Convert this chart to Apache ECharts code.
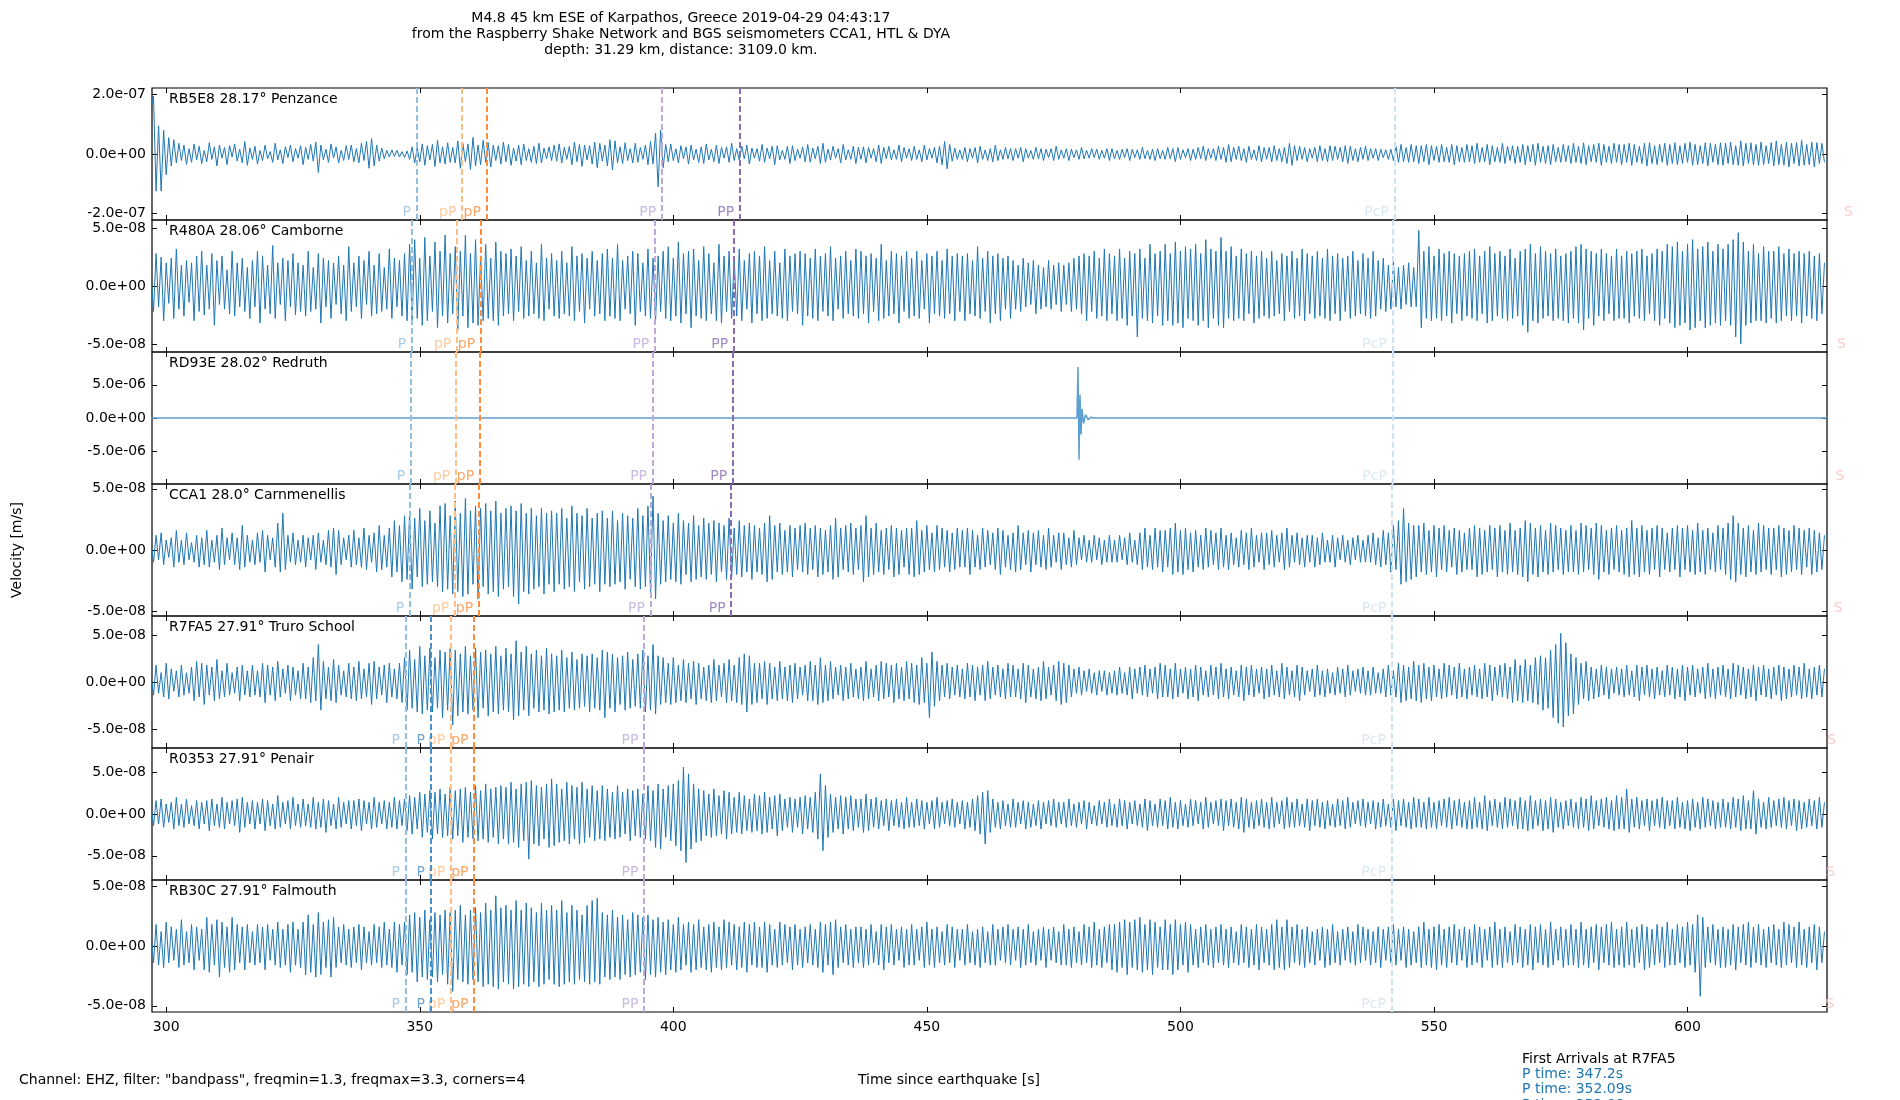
<!DOCTYPE html>
<html>
<head>
<meta charset="utf-8">
<script src="https://cdn.jsdelivr.net/npm/echarts@6/dist/echarts.min.js"></script>
<style>
  html, body { margin: 0; padding: 0; background: #fff; }
  #main { width: 1900px; height: 1100px; }
</style>
</head>
<body>
<div id="main"></div>
<script>
// traces sampled every 0.5 s from 297 s, values in nm/s (1e-9 m/s)
var T0 = 297, DT = 0.5;

var penzance = [
  150,195,-125,95,-125,80,-70,55,-40,48,-30,36,-22,30,-35,18,-28,34,-20,26,
  -32,12,-26,38,-18,24,-40,30,-14,22,-36,28,-10,34,-24,16,-30,42,-38,20,
  -18,26,-34,12,-22,30,-16,8,-28,36,-20,14,-32,24,-12,30,-26,18,-14,28,
  -36,22,-18,32,-24,40,-62,30,-20,16,-28,34,-14,24,-30,12,-22,28,-18,30,
  -26,18,-30,36,-22,42,-48,52,-40,30,-24,20,-16,12,-10,14,-8,12,-10,8,
  -12,10,-18,24,-30,20,-26,34,-38,28,-20,32,-42,46,-30,24,-34,38,-28,22,
  -30,44,-48,36,-26,34,-52,56,-40,30,-36,46,-28,38,-44,30,-22,28,-34,40,
  -26,32,-38,20,-24,30,-36,34,-22,18,-28,26,-32,36,-30,20,-16,24,-22,30,
  -24,34,-30,22,-18,26,-36,40,-26,32,-42,30,-20,28,-34,40,-46,36,-24,30,
  -40,48,-54,44,-30,24,-32,38,-22,18,-30,36,-28,22,-18,30,-36,42,-34,70,
  -110,80,-46,32,-26,34,-22,18,-30,28,-16,24,-34,30,-20,16,-28,24,-32,34,
  -20,16,-26,30,-32,22,-14,24,-28,36,-22,18,-20,26,-16,30,-34,20,-14,18,
  -24,32,-28,20,-16,26,-36,28,-20,12,-18,26,-32,28,-22,16,-14,24,-26,32,
  -28,20,-16,26,-32,36,-28,16,-20,26,-14,18,-30,32,-20,14,-18,26,-32,22,
  -18,24,-30,22,-14,18,-26,30,-32,22,-16,26,-20,14,-18,30,-26,22,-14,18,
  -22,26,-18,14,-26,30,-20,18,-14,22,-30,26,-36,42,-50,32,-24,20,-18,14,
  -18,22,-26,18,-14,22,-30,26,-18,14,-22,18,-26,30,-22,14,-18,22,-16,18,
  -22,18,-14,22,-26,18,-14,12,-18,22,-16,18,-22,16,-12,18,-22,26,-18,14,
  -14,18,-22,16,-12,14,-18,22,-16,12,-14,18,-12,16,-18,12,-14,18,-22,18,
  -16,12,-18,16,-12,18,-22,16,-12,14,-18,22,-16,12,-18,16,-22,18,-16,12,
  -18,22,-16,18,-26,22,-18,14,-12,18,-22,16,-18,22,-16,26,-22,18,-14,18,
  -22,26,-18,22,-28,32,-26,22,-18,26,-22,18,-28,26,-18,14,-22,28,-26,22,
  -18,22,-26,28,-22,18,-26,22,-32,36,-38,28,-22,26,-18,22,-26,18,-14,22,
  -26,28,-22,18,-26,28,-22,26,-18,22,-26,28,-32,26,-22,18,-26,22,-18,26,
  -22,18,-14,18,-22,16,-12,14,-18,16,-22,26,-28,32,-26,22,-28,32,-26,28,
  -32,28,-26,32,-36,28,-22,26,-28,32,-26,22,-28,32,-36,28,-26,22,-28,32,
  -26,28,-32,36,-28,22,-26,32,-36,28,-26,22,-28,36,-32,26,-22,28,-32,26,
  -28,32,-36,28,-26,32,-38,36,-28,26,-32,28,-36,32,-26,22,-28,32,-26,28,
  -32,36,-28,26,-32,38,-36,28,-26,32,-28,36,-38,32,-28,26,-32,36,-28,32,
  -36,32,-28,36,-38,32,-28,26,-32,36,-40,38,-32,28,-36,32,-28,36,-38,32,
  -32,38,-36,28,-32,36,-28,40,-38,32,-36,28,-32,38,-40,36,-28,32,-36,38,
  -38,36,-32,40,-36,28,-38,44,-40,36,-32,38,-36,32,-38,40,-36,28,-32,38,
  -40,44,-36,32,-38,40,-44,36,-32,38,-40,46,-38,32,-36,40,-44,38,-32,36,
  -28
];

var camborne = [
  10,-22,28,-18,25,-30,20,-15,24,-28,32,-20,18,-26,22,-14,20,-30,26,-22,
  30,-25,18,-20,28,-34,22,-16,26,-20,14,-24,30,-26,20,-18,24,-22,16,-28,
  22,-18,30,-32,26,-20,18,-24,35,-28,20,-16,24,-30,22,-18,28,-25,20,-22,
  18,-26,30,-22,16,-20,28,-32,24,-18,22,-28,20,-16,26,-24,18,-30,34,-22,
  20,-18,26,-28,22,-16,30,-26,18,-24,28,-22,16,-20,32,-28,24,-18,22,-26,
  28,-30,36,-32,40,-28,24,-34,42,-30,26,-22,38,-36,30,-26,44,-32,28,-24,
  34,-38,30,-26,44,-36,28,-32,40,-34,26,-30,36,-28,24,-30,38,-34,30,-26,
  28,-24,32,-30,26,-22,34,-28,22,-26,30,-24,20,-28,36,-30,24,-20,28,-26,
  22,-28,30,-24,20,-26,34,-30,26,-22,28,-32,24,-20,30,-26,22,-24,28,-30,
  32,-26,24,-28,36,-30,22,-20,26,-24,30,-34,28,-22,20,-26,32,-28,24,-30,
  26,-22,30,-28,34,-30,24,-26,38,-32,28,-24,30,-36,32,-26,22,-28,34,-30,
  28,-24,20,-30,36,-32,26,-22,30,-28,24,-26,32,-30,22,-20,28,-32,30,-24,
  26,-30,34,-28,22,-24,30,-26,20,-28,32,-30,26,-22,28,-24,30,-34,28,-26,
  24,-28,32,-30,26,-22,28,-26,34,-30,24,-20,26,-28,30,-24,22,-26,32,-28,
  30,-24,26,-32,28,-22,24,-30,36,-28,22,-26,30,-24,28,-32,26,-22,30,-28,
  24,-26,30,-28,22,-20,28,-32,26,-24,30,-26,22,-28,32,-24,26,-30,28,-22,
  26,-30,28,-24,22,-26,34,-28,24,-22,30,-32,26,-24,28,-30,24,-20,26,-28,
  22,-20,18,-22,24,-18,20,-16,22,-24,18,-20,16,-18,22,-20,18,-16,20,-22,
  18,-16,20,-22,24,-20,26,-24,28,-30,26,-22,30,-28,24,-26,32,-30,28,-24,
  26,-30,32,-28,24,-34,30,-26,28,-44,32,-28,24,-30,36,-32,28,-26,30,-34,
  36,-30,28,-34,38,-32,30,-36,34,-28,32,-30,36,-34,28,-30,40,-36,32,-28,
  30,-34,42,-36,30,-28,34,-30,26,-28,32,-30,28,-24,30,-32,26,-28,30,-26,
  24,-28,30,-26,22,-24,28,-30,26,-22,30,-28,24,-26,32,-30,28,-24,26,-28,
  30,-26,24,-28,32,-30,26,-24,28,-30,24,-22,26,-28,30,-26,22,-24,28,-26,
  24,-28,30,-26,22,-20,24,-22,18,-20,22,-18,16,-20,18,-16,20,-18,16,-18,
  48,-36,30,-28,34,-30,26,-28,32,-30,28,-26,30,-32,28,-24,26,-30,28,-26,
  30,-28,32,-30,26,-24,30,-32,34,-30,28,-26,30,-28,26,-30,32,-28,24,-26,
  30,-34,32,-40,36,-30,28,-32,34,-28,30,-26,28,-30,32,-28,26,-30,28,-32,
  30,-28,34,-32,36,-38,32,-28,30,-34,28,-26,32,-30,28,-24,26,-30,32,-28,
  26,-28,30,-32,28,-26,30,-28,32,-30,26,-24,28,-30,32,-34,30,-28,36,-32,
  34,-36,38,-34,30,-32,36,-38,40,-36,32,-30,34,-36,38,-34,30,-32,36,-34,
  32,-30,36,-34,40,-44,46,-50,38,-34,30,-32,36,-30,28,-30,34,-32,30,-28,
  30,-32,34,-30,28,-26,32,-30,28,-26,30,-32,28,-26,30,-28,26,-30,28,-24,
  20
];

// Redruth is flat apart from one spike, so it is kept as time / value pairs
var redruthT = [297, 479.6, 479.8, 480.0, 480.2, 480.4, 480.6, 480.9, 481.3, 481.8, 482.3, 483, 627.5];
var redruthV = [0, 0, 7700, -6300, 3500, -2500, 1400, -800, 500, -250, 100, 0, 0];

var carnmenellis = [
  6,-10,12,-8,14,-12,8,-6,10,-14,16,-10,8,-12,14,-8,6,-10,12,-14,
  10,-12,16,-14,8,-10,12,-16,18,-12,10,-8,14,-12,10,-16,20,-14,12,-10,
  8,-12,14,-10,16,-18,12,-8,10,-14,22,-18,30,-16,12,-10,14,-12,8,-10,
  12,-14,10,-8,12,-16,14,-10,8,-12,16,-14,18,-20,16,-12,10,-8,12,-14,
  16,-12,10,-14,18,-16,12,-10,14,-18,20,-16,12,-14,18,-22,24,-18,20,-26,
  28,-24,30,-32,26,-22,34,-30,24,-28,32,-26,22,-30,36,-34,38,-32,28,-36,
  40,-34,30,-38,42,-36,32,-28,36,-40,34,-30,38,-36,32,-34,40,-38,30,-32,
  34,-30,36,-38,32,-44,38,-34,30,-36,34,-32,28,-30,34,-36,30,-28,32,-34,
  30,-28,34,-32,26,-30,36,-34,30,-26,28,-32,34,-30,26,-28,30,-34,32,-28,
  26,-30,32,-28,24,-26,30,-32,28,-24,26,-30,34,-32,28,-30,36,-34,44,-40,
  30,-28,24,-26,28,-24,22,-26,30,-28,24,-20,22,-26,28,-24,20,-22,26,-24,
  22,-20,24,-26,22,-18,20,-24,26,-22,18,-20,24,-22,20,-18,22,-24,20,-18,
  18,-20,22,-26,28,-24,20,-18,22,-20,16,-18,20,-22,18,-16,20,-18,22,-20,
  18,-16,20,-22,18,-20,16,-18,20,-24,26,-22,18,-16,20,-18,22,-20,18,-16,
  20,-26,28,-22,18,-20,22,-18,16,-20,18,-16,20,-22,18,-20,16,-14,18,-20,
  18,-22,24,-20,16,-18,20,-16,14,-18,20,-16,18,-14,16,-18,14,-16,18,-14,
  16,-14,18,-20,16,-14,12,-16,18,-14,16,-12,14,-16,18,-20,16,-14,12,-16,
  14,-18,20,-16,14,-12,16,-18,14,-12,16,-14,12,-16,18,-14,12,-10,14,-16,
  14,-12,10,-14,16,-12,10,-8,12,-10,8,-10,12,-8,10,-12,8,-10,12,-10,
  8,-10,12,-8,10,-12,14,-10,8,-12,14,-16,18,-14,12,-16,18,-14,16,-18,
  16,-14,18,-20,22,-18,16,-20,18,-16,14,-18,16,-14,12,-16,18,-14,16,-12,
  14,-16,18,-14,12,-16,14,-12,10,-14,16,-12,14,-16,18,-14,12,-10,14,-16,
  14,-12,16,-14,12,-10,14,-16,18,-14,12,-10,14,-12,10,-14,12,-10,12,-14,
  10,-12,14,-10,8,-10,12,-14,10,-8,12,-10,8,-12,10,-8,12,-10,8,-10,
  12,-10,14,-12,10,-14,16,-12,14,-18,20,-16,24,-28,34,-26,22,-24,20,-22,
  20,-18,22,-20,16,-18,20,-22,18,-16,20,-18,16,-14,18,-20,16,-18,14,-16,
  18,-16,20,-22,18,-20,16,-18,20,-16,18,-22,20,-18,16,-20,22,-18,16,-20,
  18,-22,24,-26,22,-20,18,-22,20,-18,16,-20,22,-18,20,-16,18,-20,16,-18,
  20,-18,16,-20,22,-18,20,-16,18,-20,22,-24,20,-18,16,-20,18,-16,20,-18,
  16,-20,18,-22,24,-20,18,-22,20,-18,16,-20,18,-16,20,-22,18,-16,14,-18,
  18,-16,20,-22,18,-16,20,-18,16,-20,22,-18,16,-20,18,-16,14,-18,20,-16,
  18,-20,22,-24,28,-26,22,-20,18,-22,20,-18,16,-20,22,-18,20,-16,18,-20,
  18,-16,20,-22,18,-20,16,-18,20,-16,18,-20,16,-14,18,-20,16,-18,14,-16,
  12
];

var truro = [
  8,-14,18,-12,10,-16,20,-18,14,-10,12,-16,18,-14,10,-12,16,-20,22,-16,
  20,-24,18,-14,16,-20,24,-18,12,-16,20,-14,10,-12,16,-20,18,-14,12,-16,
  18,-14,12,-16,20,-22,18,-14,16,-20,22,-16,14,-12,18,-20,16,-14,12,-18,
  20,-18,16,-22,26,-20,40,-30,22,-18,16,-20,24,-22,18,-14,12,-16,20,-18,
  16,-20,22,-18,14,-16,20,-24,22,-18,16,-14,18,-22,20,-16,14,-18,20,-22,
  26,-30,34,-28,24,-32,38,-34,28,-30,36,-32,26,-28,34,-38,32,-30,36,-46,
  34,-36,30,-32,38,-34,28,-30,36,-38,32,-28,34,-36,30,-32,38,-34,28,-30,
  36,-32,30,-40,44,-36,32,-30,38,-36,30,-28,34,-32,28,-30,36,-34,30,-32,
  28,-30,34,-32,26,-28,32,-30,24,-28,30,-26,28,-32,30,-28,26,-30,34,-38,
  32,-28,30,-32,26,-24,28,-30,32,-28,24,-26,30,-28,34,-32,28,-30,40,-34,
  28,-24,26,-22,20,-24,26,-22,18,-20,24,-22,20,-18,22,-24,20,-18,16,-20,
  18,-22,24,-20,18,-16,20,-22,24,-20,18,-22,26,-24,30,-32,28,-24,20,-22,
  20,-18,22,-24,20,-18,16,-20,22,-18,16,-20,18,-22,20,-18,16,-14,18,-20,
  22,-20,18,-24,26,-22,18,-20,22,-18,16,-14,18,-20,16,-18,20,-16,14,-18,
  16,-20,22,-18,14,-16,18,-20,22,-18,20,-16,18,-22,20,-18,16,-20,22,-18,
  20,-22,18,-24,26,-22,20,-38,32,-26,22,-20,18,-16,20,-18,16,-14,18,-16,
  14,-18,20,-16,18,-20,16,-14,18,-20,22,-18,16,-14,18,-16,14,-18,20,-16,
  18,-16,14,-18,20,-22,18,-16,14,-18,16,-20,22,-18,16,-14,18,-20,22,-24,
  20,-22,18,-16,14,-12,16,-14,12,-10,14,-12,10,-14,12,-10,12,-14,10,-12,
  12,-14,16,-12,10,-14,16,-18,14,-12,16,-14,18,-16,14,-12,16,-18,20,-16,
  18,-16,14,-18,20,-16,14,-12,16,-18,14,-16,18,-20,16,-14,12,-16,18,-14,
  16,-18,20,-16,14,-18,16,-14,12,-16,18,-20,16,-14,18,-16,14,-12,16,-18,
  14,-16,18,-14,12,-16,20,-18,16,-14,12,-16,18,-20,16,-14,12,-10,14,-16,
  18,-14,12,-16,14,-12,10,-14,16,-12,14,-16,18,-14,12,-10,14,-12,16,-14,
  12,-14,16,-12,10,-12,14,-16,18,-14,12,-16,20,-22,18,-20,16,-18,22,-20,
  18,-22,20,-18,16,-20,18,-16,14,-18,20,-16,18,-14,16,-18,20,-16,14,-18,
  16,-14,18,-16,14,-18,20,-16,18,-20,16,-14,18,-16,20,-18,16,-22,24,-20,
  18,-22,24,-20,18,-22,26,-24,28,-30,26,-28,34,-38,40,-44,52,-48,42,-36,
  30,-34,26,-24,20,-18,22,-20,16,-18,14,-16,18,-14,16,-18,14,-12,16,-14,
  14,-16,18,-14,12,-16,18,-20,16,-14,18,-16,14,-18,16,-14,12,-16,18,-14,
  16,-18,14,-16,18,-20,16,-14,18,-16,14,-12,16,-18,20,-16,14,-18,16,-14,
  18,-16,14,-18,20,-16,18,-14,16,-18,14,-16,18,-20,16,-14,18,-16,14,-18,
  16,-14,18,-20,16,-18,14,-16,18,-14,16,-18,20,-16,14,-18,16,-14,18,-16,
  14
];

var penair = [
  10,-14,16,-12,18,-16,12,-10,14,-18,20,-14,12,-16,18,-12,10,-14,16,-18,
  14,-12,16,-20,18,-14,12,-16,20,-18,14,-12,16,-14,18,-22,20,-16,14,-12,
  16,-18,14,-12,18,-20,16,-14,12,-18,22,-16,14,-12,16,-18,20,-14,12,-16,
  18,-14,12,-16,20,-18,14,-16,18,-22,16,-14,12,-18,20,-16,14,-12,16,-18,
  16,-14,18,-20,16,-12,14,-18,20,-16,14,-12,16,-18,14,-16,20,-18,16,-14,
  18,-20,22,-24,20,-18,26,-28,24,-22,28,-30,26,-24,30,-28,24,-26,32,-30,
  28,-26,30,-34,32,-28,26,-30,34,-32,28,-30,36,-34,30,-28,32,-36,34,-30,
  32,-36,38,-34,30,-40,36,-32,38,-54,40,-36,34,-38,32,-30,36,-40,42,-38,
  36,-34,30,-32,38,-36,34,-30,32,-36,38,-34,30,-28,34,-32,28,-30,34,-32,
  30,-28,26,-30,34,-28,26,-24,30,-32,28,-26,30,-28,24,-30,34,-32,28,-40,
  36,-42,30,-28,34,-32,36,-38,40,-44,56,-58,48,-42,36,-34,30,-32,28,-26,
  24,-28,30,-26,22,-24,28,-30,26,-24,20,-22,26,-24,22,-20,18,-22,24,-20,
  22,-24,26,-22,20,-18,22,-26,24,-20,18,-16,20,-22,18,-16,20,-24,22,-18,
  20,-22,26,-30,48,-44,34,-28,24,-22,20,-18,22,-24,20,-18,22,-20,18,-16,
  18,-22,24,-20,18,-16,20,-18,16,-14,18,-20,16,-14,18,-16,14,-18,20,-16,
  14,-16,18,-14,16,-18,14,-12,16,-18,20,-16,14,-12,16,-14,18,-16,14,-12,
  16,-18,14,-16,18,-20,22,-24,26,-36,28,-22,18,-16,14,-18,16,-14,12,-16,
  18,-16,14,-12,16,-18,14,-16,12,-14,16,-18,14,-12,16,-14,18,-16,14,-12,
  14,-16,18,-14,12,-16,14,-12,16,-18,14,-12,10,-14,16,-12,14,-16,18,-14,
  12,-16,18,-14,16,-18,14,-12,16,-14,12,-16,18,-20,16,-14,12,-16,18,-14,
  16,-18,20,-16,14,-18,16,-14,12,-16,18,-14,16,-12,14,-18,20,-16,14,-12,
  16,-14,18,-20,16,-14,18,-16,14,-18,20,-22,18,-16,14,-18,16,-14,18,-16,
  14,-18,20,-16,14,-12,16,-18,20,-16,14,-16,18,-14,12,-16,18,-20,16,-14,
  18,-16,14,-18,16,-14,12,-16,18,-14,16,-18,20,-16,14,-12,16,-14,18,-16,
  14,-12,16,-18,14,-16,18,-14,12,-16,18,-20,16,-14,18,-16,14,-18,20,-16,
  18,-16,14,-18,20,-16,14,-18,16,-14,18,-16,20,-18,16,-14,18,-16,14,-18,
  16,-18,20,-16,14,-18,22,-20,16,-14,18,-16,14,-18,20,-16,18,-14,16,-18,
  20,-18,16,-20,22,-18,16,-14,18,-20,16,-18,20,-22,18,-16,14,-18,16,-14,
  18,-16,14,-18,20,-16,18,-20,22,-18,16,-14,18,-16,20,-18,16,-20,22,-18,
  20,-18,30,-22,18,-16,20,-18,16,-14,18,-20,16,-14,18,-16,20,-18,16,-14,
  16,-18,20,-16,14,-18,16,-20,18,-16,14,-18,20,-16,18,-14,16,-18,14,-16,
  18,-16,14,-18,20,-16,18,-20,22,-18,16,-18,28,-24,18,-16,14,-18,20,-16,
  16,-14,18,-16,20,-18,16,-14,18,-20,16,-18,14,-16,18,-14,16,-18,20,-16,
  14
];

var falmouth = [
  10,-14,18,-16,12,-18,20,-14,16,-12,14,-18,22,-16,12,-14,18,-20,16,-12,
  14,-20,24,-22,18,-16,22,-26,20,-18,16,-22,24,-20,18,-14,16,-20,18,-14,
  12,-16,18,-14,16,-20,18,-12,14,-16,20,-18,14,-16,18,-22,20,-16,14,-18,
  20,-24,26,-22,18,-26,28,-24,20,-18,22,-26,24,-18,16,-14,18,-16,14,-18,
  16,-14,18,-20,16,-14,12,-16,18,-14,16,-18,20,-16,14,-18,20,-22,18,-16,
  20,-24,26,-22,28,-30,24,-26,30,-28,22,-26,28,-30,26,-24,30,-32,28,-38,
  30,-28,34,-30,26,-32,30,-28,32,-30,28,-34,36,-32,30,-34,42,-36,32,-30,
  34,-32,30,-36,38,-34,30,-32,36,-34,32,-30,28,-34,36,-32,30,-28,34,-32,
  30,-34,38,-32,28,-30,34,-32,30,-28,26,-30,34,-32,38,-30,40,-32,28,-26,
  26,-28,30,-26,24,-28,26,-24,22,-26,28,-24,26,-22,24,-28,26,-24,22,-26,
  24,-22,20,-24,22,-20,18,-22,24,-20,18,-16,20,-22,18,-20,22,-18,16,-20,
  18,-22,20,-18,16,-20,22,-18,20,-16,18,-20,16,-18,20,-22,18,-16,20,-18,
  16,-18,20,-22,18,-16,14,-18,20,-16,18,-14,16,-20,18,-16,14,-18,16,-14,
  18,-16,14,-18,20,-22,18,-16,20,-24,22,-18,16,-14,18,-16,14,-18,16,-14,
  16,-18,14,-16,18,-14,12,-16,18,-20,16,-14,18,-16,14,-12,16,-18,14,-16,
  18,-16,14,-12,16,-18,20,-16,14,-18,16,-14,12,-16,18,-14,16,-18,14,-12,
  14,-16,18,-14,12,-16,14,-18,16,-14,12,-16,18,-16,14,-12,16,-14,18,-16,
  14,-12,16,-18,14,-16,18,-14,12,-16,14,-12,16,-18,14,-12,16,-14,12,-16,
  18,-16,14,-18,16,-14,12,-16,18,-14,16,-18,20,-16,14,-18,16,-14,18,-20,
  18,-22,20,-18,22,-24,20,-18,22,-20,24,-22,18,-20,22,-24,20,-18,16,-20,
  22,-20,18,-24,22,-20,18,-16,20,-22,18,-16,14,-18,16,-14,18,-16,14,-18,
  16,-14,18,-16,14,-18,16,-14,12,-16,18,-14,16,-18,14,-16,18,-20,16,-14,
  14,-16,18,-20,22,-18,16,-20,22,-18,16,-14,18,-16,14,-18,16,-14,12,-16,
  14,-12,16,-18,14,-16,18,-14,12,-16,14,-12,16,-14,12,-16,18,-14,16,-12,
  14,-16,12,-14,16,-18,14,-12,16,-14,18,-16,14,-12,16,-18,14,-16,12,-14,
  16,-18,20,-16,14,-18,16,-20,18,-16,14,-18,16,-14,18,-16,14,-12,16,-18,
  14,-16,18,-14,16,-18,14,-12,16,-18,20,-16,14,-18,16,-14,12,-16,18,-14,
  16,-18,14,-16,18,-20,16,-14,18,-16,14,-18,20,-16,14,-12,16,-18,14,-16,
  18,-16,14,-18,20,-16,14,-18,16,-14,18,-20,16,-14,18,-16,20,-18,14,-16,
  16,-18,20,-16,14,-18,16,-14,18,-20,16,-18,14,-16,18,-14,16,-18,20,-16,
  14,-16,18,-14,16,-18,20,-16,18,-22,26,-42,24,-18,16,-14,18,-16,14,-18,
  16,-18,14,-16,18,-20,16,-14,18,-16,20,-18,16,-14,18,-16,14,-18,16,-14,
  18,-16,14,-18,20,-16,18,-14,16,-18,20,-16,14,-18,16,-14,18,-20,16,-14,
  12
];

var stations = ['RB5E8 28.17° Penzance', 'R480A 28.06° Camborne', 'RD93E 28.02° Redruth',
  'CCA1 28.0° Carnmenellis', 'R7FA5 27.91° Truro School', 'R0353 27.91° Penair', 'RB30C 27.91° Falmouth'];

// half-range of each panel's y axis and its labelled tick (m/s)
var yLimits = [2.22e-7, 5.7e-8, 9.95e-6, 5.39e-8, 7.04e-8, 7.9e-8, 5.52e-8];
var yTickSteps = [2e-7, 5e-8, 5e-6, 5e-8, 5e-8, 5e-8, 5e-8];

var xTicks = [300, 350, 400, 450, 500, 550, 600];
var xMin = 297.2, xMax = 627.5;

// phase arrivals per panel (s); a trailing '2' marks the darker second pick
var phaseKinds = [
  ['P', 'pP', 'pP2', 'PP', 'PP2', 'PcP', 'S'],
  ['P', 'pP', 'pP2', 'PP', 'PP2', 'PcP', 'S'],
  ['P', 'pP', 'pP2', 'PP', 'PP2', 'PcP', 'S'],
  ['P', 'pP', 'pP2', 'PP', 'PP2', 'PcP', 'S'],
  ['P', 'P2', 'pP', 'pP2', 'PP', 'PcP', 'S'],
  ['P', 'P2', 'pP', 'pP2', 'PP', 'PcP', 'S'],
  ['P', 'P2', 'pP', 'pP2', 'PP', 'PcP', 'S']
];
var phaseTimes = [
  [349.35, 358.3, 363.15, 397.7, 413.1, 542.2, 633.7],
  [348.4, 357.3, 362.0, 396.35, 411.9, 541.8, 632.3],
  [348.2, 357.1, 361.8, 395.9, 411.7, 541.8, 632.0],
  [348.0, 356.9, 361.6, 395.5, 411.4, 541.7, 631.6],
  [347.2, 352.09, 356.1, 360.7, 394.2, 541.6, 630.4],
  [347.2, 352.09, 356.1, 360.7, 394.2, 541.6, 630.2],
  [347.2, 352.09, 356.1, 360.7, 394.2, 541.6, 630.0]
];

var firstArrivals = ['P time: 347.2s', 'P time: 352.09s', 'P time: 352.09s'];

var phaseColours = {
  P: '#92bfe0', P2: '#4a90c8', pP: '#fdbf86', pP2: '#fd8d3c',
  PP: '#bca9d9', PP2: '#8a6bb5', PcP: '#cfe2f3', S: '#f9c0c0'
};

var FONT = '"DejaVu Sans", sans-serif';
var LEFT = 152, RIGHT = 73, TOP = 88, PANEL_H = 132;

function toPairs(vals) {
  return vals.map(function (v, i) { return [T0 + i * DT, v * 1e-9]; });
}

function expLabel(v) {
  v = Number(v);
  if (v === 0) return '0.0e+00';
  var parts = v.toExponential(1).split('e');
  var e = parseInt(parts[1], 10), a = Math.abs(e);
  return parts[0] + 'e' + (e < 0 ? '-' : '+') + (a < 10 ? '0' : '') + a;
}

var traces = [
  toPairs(penzance),
  toPairs(camborne),
  redruthT.map(function (t, i) { return [t, redruthV[i] * 1e-9]; }),
  toPairs(carnmenellis),
  toPairs(truro),
  toPairs(penair),
  toPairs(falmouth)
];

function buildOption() {
  var grids = [], xAxes = [], yAxes = [], series = [], graphics = [];

  for (var i = 0; i < 7; i++) {
    var panelTop = TOP + i * PANEL_H, R = yLimits[i], step = yTickSteps[i];
    var yTicks = [-step, 0, step], isLast = i === 6;

    grids.push({ left: LEFT, right: RIGHT, top: panelTop, height: PANEL_H, show: true, borderColor: '#000', borderWidth: 1.2 });

    xAxes.push({ type: 'value', gridIndex: i, min: xMin, max: xMax, position: 'bottom',
      axisLine: { show: false, onZero: false }, splitLine: { show: false },
      axisTick: { show: true, inside: true, length: 5, customValues: xTicks, lineStyle: { color: '#000' } },
      axisLabel: { show: isLast, customValues: xTicks, margin: 8, color: '#000', fontSize: 14, fontFamily: FONT } });
    xAxes.push({ type: 'value', gridIndex: i, min: xMin, max: xMax, position: 'top',
      axisLine: { show: false, onZero: false }, splitLine: { show: false },
      axisTick: { show: true, inside: true, length: 5, customValues: xTicks, lineStyle: { color: '#000' } },
      axisLabel: { show: false } });
    yAxes.push({ type: 'value', gridIndex: i, min: -R, max: R, position: 'left',
      axisLine: { show: false, onZero: false }, splitLine: { show: false },
      axisTick: { show: true, inside: true, length: 5, customValues: yTicks, lineStyle: { color: '#000' } },
      axisLabel: { show: true, customValues: yTicks, margin: 6, color: '#000', fontSize: 14, fontFamily: FONT, formatter: expLabel } });
    yAxes.push({ type: 'value', gridIndex: i, min: -R, max: R, position: 'right',
      axisLine: { show: false, onZero: false }, splitLine: { show: false },
      axisTick: { show: true, inside: true, length: 5, customValues: yTicks, lineStyle: { color: '#000' } },
      axisLabel: { show: false } });

    series.push({ type: 'line', xAxisIndex: i * 2, yAxisIndex: i * 2, data: traces[i],
      symbol: 'none', showSymbol: false, clip: true, z: 2,
      lineStyle: { color: i === 2 ? '#5e9fd2' : '#1f77b4', width: i === 2 ? 1.5 : 1 } });

    var labelData = [], lineData = [];
    for (var k = 0; k < phaseKinds[i].length; k++) {
      var kind = phaseKinds[i][k], t = phaseTimes[i][k], col = phaseColours[kind];
      labelData.push({ value: [t, -R], name: kind.replace('2', ''), label: { color: col } });
      if (t <= xMax) lineData.push({ xAxis: t, lineStyle: { color: col, type: [6, 3], width: 2 } });
    }
    series.push({ type: 'scatter', xAxisIndex: i * 2, yAxisIndex: i * 2, data: labelData, symbolSize: 1,
      itemStyle: { color: 'rgba(0,0,0,0)' }, clip: false, silent: true, z: 4,
      label: { show: true, formatter: '{b}', position: [-5, 0], align: 'right', verticalAlign: 'bottom', fontSize: 14, fontFamily: FONT },
      markLine: { silent: true, symbol: ['none', 'none'], label: { show: false }, data: lineData } });

    graphics.push({ type: 'text', x: 169, y: panelTop + 11,
      style: { text: stations[i], font: '14px ' + FONT, fill: '#000', verticalAlign: 'middle' } });
  }

  graphics.push({ type: 'text', x: 17, y: 550, rotation: Math.PI / 2,
    style: { text: 'Velocity [m/s]', font: '14px ' + FONT, fill: '#000', align: 'center', verticalAlign: 'middle' } });
  graphics.push({ type: 'text', x: 19, y: 1080,
    style: { text: 'Channel: EHZ, filter: "bandpass", freqmin=1.3, freqmax=3.3, corners=4', font: '14px ' + FONT, fill: '#000', verticalAlign: 'middle' } });
  graphics.push({ type: 'text', x: 949, y: 1080,
    style: { text: 'Time since earthquake [s]', font: '14px ' + FONT, fill: '#000', align: 'center', verticalAlign: 'middle' } });
  graphics.push({ type: 'text', x: 1522, y: 1059,
    style: { text: 'First Arrivals at R7FA5', font: '14px ' + FONT, fill: '#000', verticalAlign: 'middle' } });
  for (var j = 0; j < firstArrivals.length; j++) {
    graphics.push({ type: 'text', x: 1522, y: 1074 + j * 15.5,
      style: { text: firstArrivals[j], font: '14px ' + FONT, fill: '#1f77b4', verticalAlign: 'middle' } });
  }

  return {
    animation: false,
    backgroundColor: '#fff',
    title: {
      text: 'M4.8 45 km ESE of Karpathos, Greece 2019-04-29 04:43:17\nfrom the Raspberry Shake Network and BGS seismometers CCA1, HTL & DYA\ndepth: 31.29 km, distance: 3109.0 km.',
      left: 'center', top: 5, textAlign: 'center',
      textStyle: { fontSize: 14, fontWeight: 'normal', color: '#000', lineHeight: 16, fontFamily: FONT }
    },
    grid: grids,
    xAxis: xAxes,
    yAxis: yAxes,
    series: series,
    graphic: graphics
  };
}

var myChart = echarts.init(document.getElementById('main'));
myChart.setOption(buildOption());
</script>
</body>
</html>
